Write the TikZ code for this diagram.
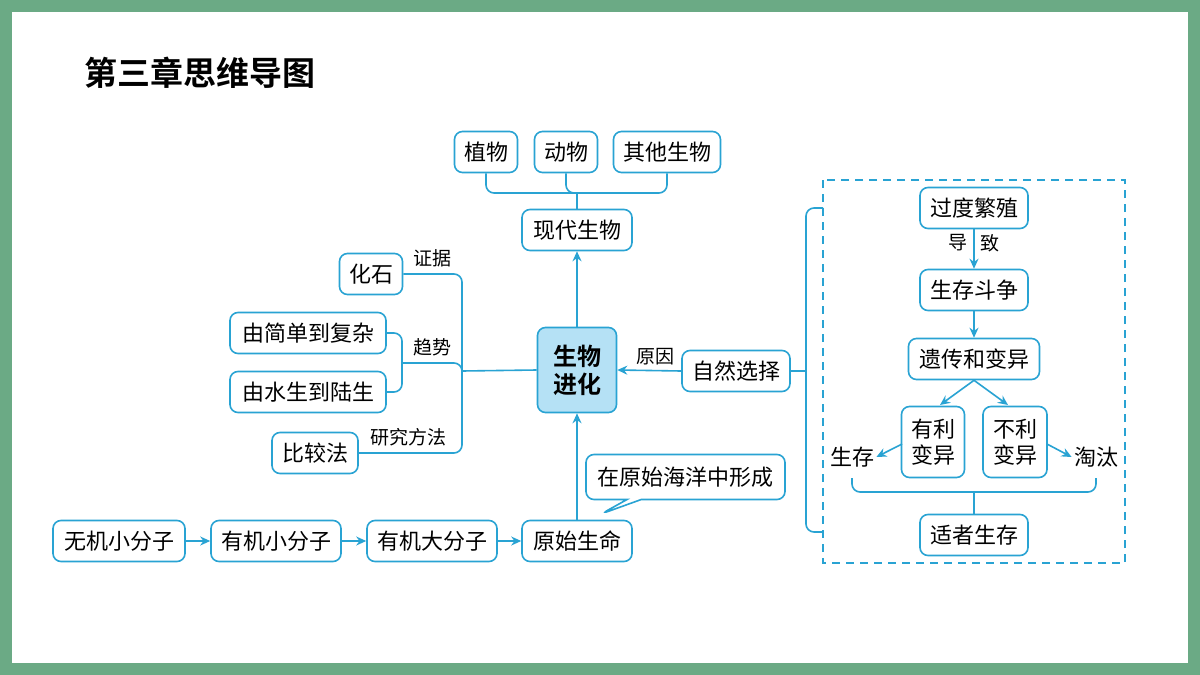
\documentclass[tikz,border=0pt]{standalone}
\usepackage{fontspec}
\setmainfont{Noto Sans CJK SC}
\newfontfamily\cjkb{Noto Sans CJK SC Bold}
\usetikzlibrary{arrows.meta,shapes.callouts}
\definecolor{ln}{HTML}{29A3D3}
\definecolor{bg}{HTML}{6BAA85}
\definecolor{fillc}{HTML}{B5E1F5}
\begin{document}
\begin{tikzpicture}[x=0.5pt,y=-0.5pt,
  box/.style={draw=ln,line width=0.8pt,rounded corners=4pt,fill=white,inner sep=0pt,minimum height=20.5pt,font=\fontsize{11}{12}\selectfont},
  lab/.style={font=\fontsize{9.5}{10}\selectfont,inner sep=0pt},
  ln/.style={draw=ln,line width=0.8pt},
  arr/.style={ln,-{Stealth[length=5pt,width=4.5pt]}}]
\fill[bg] (0,0) rectangle (1200,675);
\fill[white] (12,12) rectangle (1188,663);
\node[anchor=west,font=\cjkb\fontsize{16.5}{17}\selectfont,inner sep=0pt] (title) at (84,73) {第三章思维导图};
% top
\node[box,minimum width=31.5pt] (zw) at (486,152) {植物};
\node[box,minimum width=31.5pt] (dw) at (566,152) {动物};
\node[box,minimum width=53.5pt] (qt) at (667,152) {其他生物};
\node[box,minimum width=55pt] (xd) at (577,230) {现代生物};
\node[box,minimum width=39.5pt,minimum height=42.5pt,fill=fillc,align=center,font=\cjkb\fontsize{12}{14}\selectfont] (sw) at (577,370) {生物\\进化};
\coordinate (tb) at (577,193);
\draw[ln,rounded corners=4pt] (zw.south) |- (tb) -| (qt.south);
\draw[ln,rounded corners=4pt] (dw.south) |- (tb);
\draw[ln] (tb) -- (xd.north);
\draw[arr] (sw.north) -- (xd.south);
% left
\node[box,minimum width=31.5pt] (hs) at (371,274) {化石};
\node[box,minimum width=78pt] (jd) at (308,333) {由简单到复杂};
\node[box,minimum width=78pt] (ss) at (308,392) {由水生到陆生};
\node[box,minimum width=43pt] (bj) at (315,453) {比较法};
\coordinate (lj) at (462,371);
\coordinate (qs) at (402,363);
\draw[ln,rounded corners=4pt] (hs.east) -| (lj) |- (bj.east);
\draw[ln,rounded corners=4pt] (jd.east) -| (qs) |- (ss.east);
\draw[ln,rounded corners=4pt] (qs) -| (lj);
\draw[ln] (lj) -- (sw.west);
\node[lab] (l1) at (432,258) {证据};
\node[lab] (l2) at (432,347) {趋势};
\node[lab] (l3) at (408,437) {研究方法};
% right
\node[box,minimum width=54pt] (zr) at (736,371) {自然选择};
\draw[arr] (zr.west) -- (sw.east);
\node[lab] (l4) at (655,357) {原因};
% bottom
\node[box,minimum width=66pt] (wj) at (119,541) {无机小分子};
\node[box,minimum width=65pt] (yx) at (276,541) {有机小分子};
\node[box,minimum width=65pt] (yd) at (432,541) {有机大分子};
\node[box,minimum width=55pt] (ys) at (577,541) {原始生命};
\draw[arr] (wj) -- (yx);
\draw[arr] (yx) -- (yd);
\draw[arr] (yd) -- (ys);
\draw[arr] (ys.north) -- (sw.south);
\node[box,rectangle callout,rounded corners=4pt,minimum width=99.5pt,minimum height=22.5pt,callout absolute pointer={(601,514)}] (cb) at (685.5,477) {在原始海洋中形成};
% dashed box
\draw[ln,dashed,dash pattern=on 4pt off 3pt] (823,180) rectangle (1125,563);
\coordinate (rb) at (806,371);
\draw[ln,rounded corners=4pt] (823,208) -| (rb) |- (823,532);
\draw[ln] (zr.east) -- (rb);
\node[box,minimum width=54pt] (gd) at (974,208) {过度繁殖};
\node[box,minimum width=54pt] (sc) at (974,290) {生存斗争};
\node[box,minimum width=65.5pt] (yc) at (974,359) {遗传和变异};
\node[box,minimum width=31.5pt,minimum height=35.5pt,align=center,font=\fontsize{11}{13}\selectfont] (yl) at (933,442) {有利\\变异};
\node[box,minimum width=32pt,minimum height=35.5pt,align=center,font=\fontsize{11}{13}\selectfont] (bl) at (1015,442) {不利\\变异};
\node[inner sep=1pt,font=\fontsize{11}{12}\selectfont] (sv) at (852,457) {生存};
\node[inner sep=1pt,font=\fontsize{11}{12}\selectfont] (tt) at (1096,457) {淘汰};
\node[box,minimum width=54pt] (sz) at (974,535) {适者生存};
\coordinate (ta) at (940,405);
\coordinate (tb2) at (1008,405);
\coordinate (sa) at (902,444);
\coordinate (sb) at (1047,444);
\draw[arr] (gd) -- (sc);
\node[lab] (l5) at (958,243) {导};
\node[lab] (l6) at (990,243) {致};
\draw[arr] (sc) -- (yc);
\draw[arr] (yc.south) -- (ta);
\draw[arr] (yc.south) -- (tb2);
\draw[arr] (sa) -- (sv.east);
\draw[arr] (sb) -- (tt.west);
\coordinate (bb) at (974,492);
\draw[ln,rounded corners=4pt] (852,478) |- (bb) -| (1096,478);
\draw[ln] (bb) -- (sz.north);
\end{tikzpicture}
\end{document}
